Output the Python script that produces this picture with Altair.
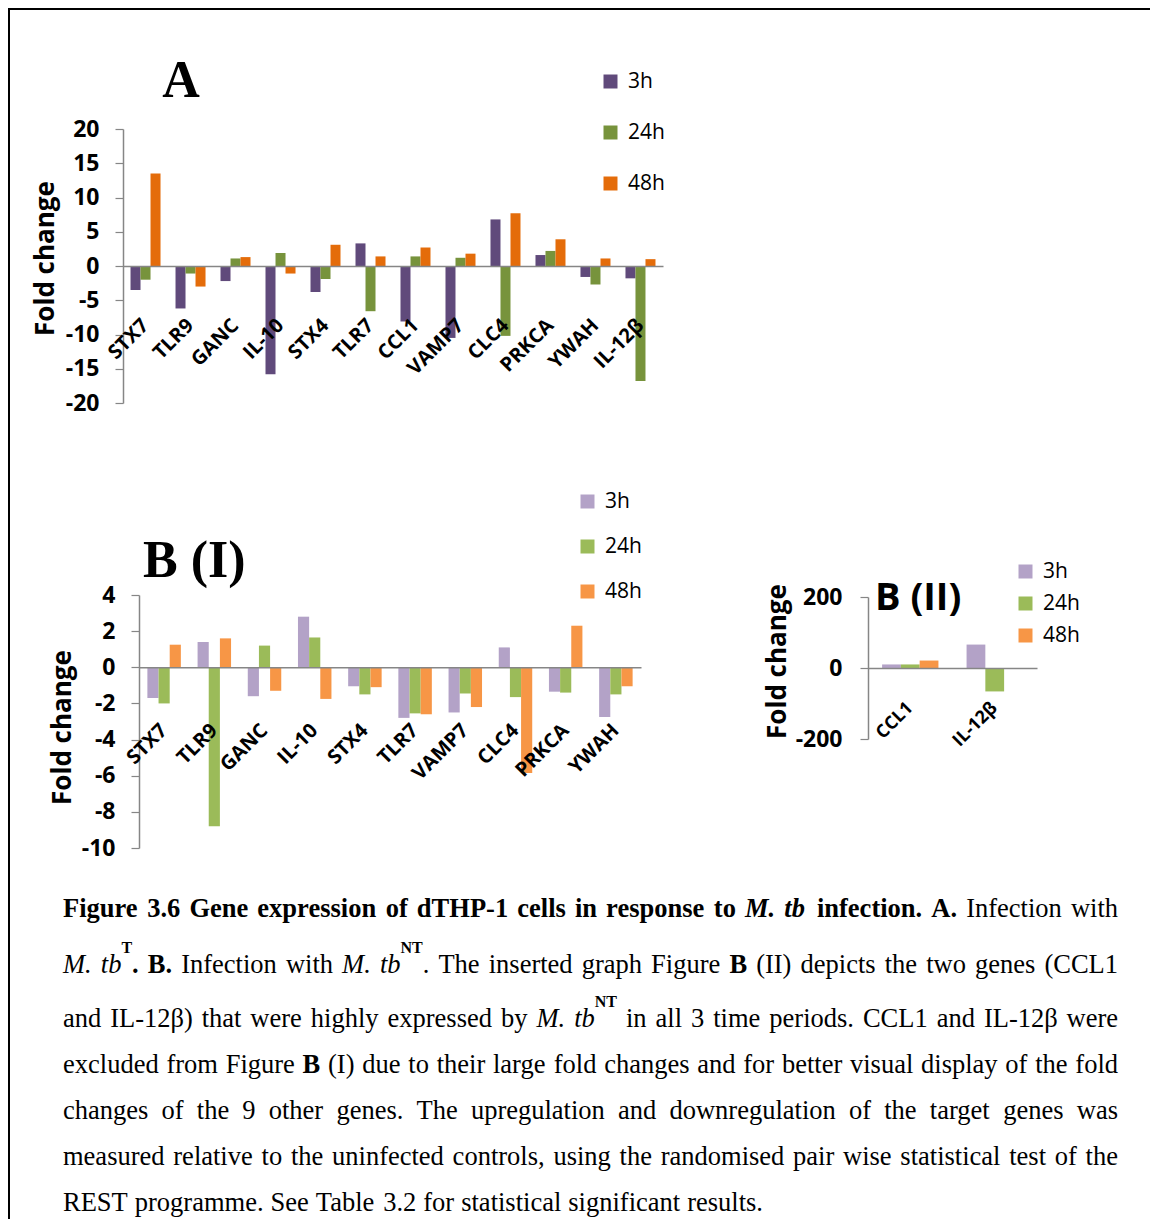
import altair as alt
import pandas as pd

# ---------------- data ----------------
times = ["3h", "24h", "48h"]

genes_a = ["STX7", "TLR9", "GANC", "IL-10", "STX4", "TLR7", "CCL1", "VAMP7",
           "CLC4", "PRKCA", "YWAH", "IL-12β"]
a_3h = [-3.5, -6.2, -2.2, -15.8, -3.8, 3.3, -8.1, -10.5, 6.8, 1.6, -1.6, -1.8]
a_24h = [-2.0, -1.1, 1.1, 1.9, -1.9, -6.6, 1.4, 1.2, -10.2, 2.2, -2.7, -16.8]
a_48h = [13.5, -3.0, 1.3, -1.1, 3.1, 1.4, 2.7, 1.8, 7.7, 3.9, 1.1, 1.0]

genes_b1 = ["STX7", "TLR9", "GANC", "IL-10", "STX4", "TLR7", "VAMP7", "CLC4",
            "PRKCA", "YWAH"]
b1_3h = [-1.7, 1.4, -1.6, 2.8, -1.05, -2.8, -2.5, 1.1, -1.35, -2.75]
b1_24h = [-2.0, -8.8, 1.2, 1.65, -1.5, -2.55, -1.45, -1.65, -1.4, -1.5]
b1_48h = [1.25, 1.6, -1.3, -1.75, -1.1, -2.6, -2.2, -5.85, 2.3, -1.05]

genes_b2 = ["CCL1", "IL-12β"]
b2_3h = [10, 66]
b2_24h = [10, -66]
b2_48h = [21, 0]

ticks_a = [-20, -15, -10, -5, 0, 5, 10, 15, 20]
ticks_b1 = [-10, -8, -6, -4, -2, 0, 2, 4]
ticks_b2 = [-200, 0, 200]

colors_a = ["#604A7B", "#77933C", "#E46C0A"]
colors_b = ["#B3A2C7", "#9BBB59", "#F79646"]

caption_lines = [
    [("b", "Figure 3.6 Gene expression of dTHP-1 cells in response to "), ("bi", "M. tb"),
     ("b", " infection. A."), ("n", " Infection with")],
    [("i", "M. tb"), ("sup", "T"), ("b", ". B."), ("n", " Infection with "), ("i", "M. tb"),
     ("sup", "NT"), ("n", ". The inserted graph Figure "), ("b", "B"),
     ("n", " (II) depicts the two genes (CCL1")],
    [("n", "and IL-12β) that were highly expressed by "), ("i", "M. tb"), ("sup", "NT"),
     ("n", " in all 3 time periods. CCL1 and IL-12β were")],
    [("n", "excluded from Figure "), ("b", "B"),
     ("n", " (I) due to their large fold changes and for better visual display of the fold")],
    [("n", "changes of the 9 other genes. The upregulation and downregulation of the target genes was")],
    [("n", "measured relative to the uninfected controls, using the randomised pair wise statistical test of the")],
    [("n", "REST programme. See Table 3.2 for statistical significant results.")],
]

# ---------------- layout ----------------
W, H = 1142, 1211
OFF = 8


def px(v):
    return v - OFF


FONT = "Open Sans"
SERIF = "Liberation Serif"
GRAY = "#868686"


def panel(genes, s3, s24, s48, colors, xr, yr, ydom, yvals, y0_page, lab_page_y,
          title_c, leg_xy, row_pad, xlab_size, ylab_pad):
    n = len(genes)
    df = pd.DataFrame({
        "gene": genes * 3,
        "time": ["3h"] * n + ["24h"] * n + ["48h"] * n,
        "value": s3 + s24 + s48,
    })
    ax_x = px(xr[0])
    return alt.Chart(df).mark_bar().encode(
        x=alt.X("gene:N", sort=genes,
                scale=alt.Scale(range=[px(xr[0]), px(xr[1])], paddingInner=0.333,
                                paddingOuter=0.167),
                axis=alt.Axis(orient="bottom", offset=px(y0_page) - H,
                              labelPadding=lab_page_y - y0_page, ticks=False,
                              domainColor=GRAY, domainWidth=1.5, labelAngle=315,
                              labelAlign="right", labelBaseline="middle", labelFont=FONT,
                              labelFontSize=xlab_size, labelFontWeight="bold",
                              labelColor="black", labelOverlap=False, title=None,
                              zindex=1)),
        xOffset=alt.XOffset("time:N", sort=times),
        y=alt.Y("value:Q",
                scale=alt.Scale(domain=ydom, range=[px(yr[0]), px(yr[1])], nice=False),
                axis=alt.Axis(orient="left", offset=-ax_x, values=yvals, grid=False,
                              labelExpr="'' + datum.value",
                              domainColor=GRAY, domainWidth=1.5, tickColor=GRAY,
                              tickSize=8, tickWidth=1.2, labelPadding=ylab_pad,
                              labelFont=FONT, labelFontSize=23, labelFontWeight="bold",
                              labelColor="black", title="Fold change", titleFont=FONT,
                              titleFontSize=26, titleFontWeight="bold", titleColor="black",
                              titleAngle=270, titleAlign="center", titleBaseline="middle",
                              titleX=px(title_c[0]) - ax_x, titleY=px(title_c[1]))),
        color=alt.Color("time:N", sort=times,
                        scale=alt.Scale(domain=times, range=colors),
                        legend=alt.Legend(orient="none", legendX=px(leg_xy[0]),
                                          legendY=px(leg_xy[1]), title=None,
                                          symbolType="square", symbolSize=196,
                                          symbolStrokeWidth=0, labelFont=FONT,
                                          labelFontSize=21, labelColor="black",
                                          labelOffset=7, rowPadding=row_pad, padding=0,
                                          direction="vertical")),
    )


pa = panel(genes_a, a_3h, a_24h, a_48h, colors_a, (123, 663), (403, 129), [-20, 20],
           ticks_a, 266, 322, (45, 258), (600, 71), 29, 20, 16)
pb1 = panel(genes_b1, b1_3h, b1_24h, b1_48h, colors_b, (139, 641), (848, 595), [-10, 4],
            ticks_b1, 667.3, 727, (62, 727), (577, 491), 23, 20, 16)
pb2 = panel(genes_b2, b2_3h, b2_24h, b2_48h, colors_b, (868, 1037), (739, 597),
            [-200, 200], ticks_b2, 668, 705, (777, 661), (1015, 561), 10, 18, 18)


def label(txt, x, y, size, font, align="left"):
    return alt.Chart(pd.DataFrame({"t": [txt]})).mark_text(
        align=align, baseline="alphabetic", font=font, fontSize=size,
        fontWeight="bold", color="black"
    ).encode(x=alt.value(px(x)), y=alt.value(px(y)), text="t:N")


t_a = label("A", 181, 97, 52, SERIF, "center")
t_b1 = label("B (I)", 143, 577, 52, SERIF)
t_b2 = label("B (II)", 875, 610, 38, FONT)

# ---------------- caption (justified) ----------------
LOW = "abcdefghijklmnopqrstuvwxyz"
UP = "ABCDEFGHIJKLMNOPQRSTUVWXYZ"
W_N = dict(zip(LOW, [444, 500, 444, 500, 444, 333, 500, 500, 278, 278, 500, 278, 778,
                     500, 500, 500, 500, 333, 389, 278, 500, 500, 722, 500, 500, 444]))
W_N.update(zip(UP, [722, 667, 667, 722, 611, 556, 722, 722, 333, 389, 722, 611, 889,
                    722, 722, 556, 722, 667, 556, 611, 722, 722, 944, 722, 722, 611]))
W_B = dict(zip(LOW, [500, 556, 444, 556, 444, 333, 500, 556, 278, 333, 556, 278, 833,
                     556, 500, 556, 556, 444, 389, 333, 556, 500, 722, 500, 500, 444]))
W_B.update(zip(UP, [722, 667, 722, 722, 667, 611, 778, 778, 389, 500, 778, 667, 944,
                    722, 778, 611, 778, 722, 556, 667, 722, 722, 1000, 722, 722, 667]))
W_I = dict(zip(LOW, [500, 500, 444, 500, 444, 278, 500, 500, 278, 278, 444, 278, 722,
                     500, 500, 500, 500, 389, 389, 278, 500, 444, 667, 444, 444, 389]))
W_I.update(zip(UP, [611, 611, 667, 722, 611, 611, 722, 722, 333, 444, 667, 556, 833,
                    667, 722, 611, 722, 611, 500, 556, 722, 611, 833, 611, 556, 556]))
W_BI = dict(W_B)
W_BI["M"] = 889
PUNCT = {" ": 250, ".": 250, ",": 250, "-": 333, "(": 333, ")": 333, "β": 500}
for d in (W_N, W_B, W_I, W_BI):
    d.update(PUNCT)
    d.update({c: 500 for c in "0123456789"})
TABLES = {"n": W_N, "b": W_B, "i": W_I, "bi": W_BI, "sup": W_B}

CAP_SIZE = 26.5
SUP_SIZE = 16
CAP_LEFT, CAP_RIGHT = 63, 1118
baselines = [917, 973, 1027, 1073, 1119, 1165, 1211]
right_edges = [CAP_RIGHT] * 6 + [763]


def tokenize(segs):
    toks = []
    pending = False
    for style, text in segs:
        cur = ""
        gap = False
        for ch in text:
            if ch == " ":
                if cur:
                    toks.append([cur, style, gap])
                    cur = ""
                pending = True
            else:
                if not cur:
                    gap = pending and len(toks) > 0
                    pending = False
                cur += ch
        if cur:
            toks.append([cur, style, gap])
    return toks


def width(tok):
    txt, style, _ = tok
    size = SUP_SIZE if style == "sup" else CAP_SIZE
    return sum(TABLES[style].get(c, 500) for c in txt) / 1000.0 * size


rows = []
for li, segs in enumerate(caption_lines):
    toks = tokenize(segs)
    space = 0.25 * CAP_SIZE
    ngaps = sum(1 for t in toks if t[2])
    natural = sum(width(t) for t in toks) + ngaps * space
    extra = (right_edges[li] - CAP_LEFT - natural) / ngaps if ngaps else 0
    x = CAP_LEFT
    for i, t in enumerate(toks):
        if i > 0 and t[2]:
            x += space + extra
        y = baselines[li] - 20 if t[1] == "sup" else baselines[li]
        rows.append({"w": t[0], "style": t[1], "x": px(x), "y": px(y)})
        x += width(t)
cap_df = pd.DataFrame(rows)


def cap_layer(style, size, weight=None, fstyle=None):
    kw = dict(align="left", baseline="alphabetic", font=SERIF, fontSize=size,
              color="black")
    if weight:
        kw["fontWeight"] = weight
    if fstyle:
        kw["fontStyle"] = fstyle
    return alt.Chart(cap_df[cap_df["style"] == style]).mark_text(**kw).encode(
        x=alt.X("x:Q", scale=None, axis=None),
        y=alt.Y("y:Q", scale=None, axis=None),
        text="w:N",
    )


caps = [
    cap_layer("n", CAP_SIZE),
    cap_layer("b", CAP_SIZE, "bold"),
    cap_layer("i", CAP_SIZE, None, "italic"),
    cap_layer("bi", CAP_SIZE, "bold", "italic"),
    cap_layer("sup", SUP_SIZE, "bold"),
]

border_df = pd.DataFrame({"a": [0]})
top_line = alt.Chart(border_df).mark_rule(color="black", strokeWidth=2).encode(
    x=alt.value(0), x2=alt.value(W), y=alt.value(1))
left_line = alt.Chart(border_df).mark_rule(color="black", strokeWidth=2).encode(
    x=alt.value(1), y=alt.value(0), y2=alt.value(H))

chart = alt.layer(
    pa, pb1, pb2, t_a, t_b1, t_b2, *caps, top_line, left_line
).resolve_scale(
    x="independent", y="independent", color="independent", xOffset="independent"
).properties(
    width=W, height=H, autosize=alt.AutoSizeParams(type="none"), padding=0
).configure_view(strokeWidth=0)

chart.save("out.html", embed_options={"renderer": "svg", "actions": False})
